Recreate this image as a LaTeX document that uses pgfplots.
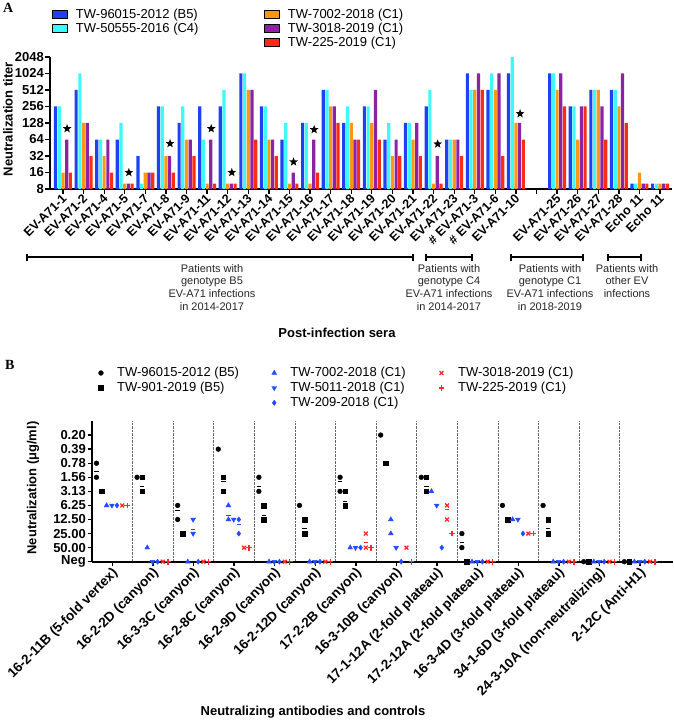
\documentclass[border=0pt]{standalone}
\usepackage{fontspec}
\setmainfont{Liberation Sans}
\newfontfamily\serifb{Liberation Serif}
\usepackage{pgfplots}
\pgfplotsset{compat=1.18}
\usepackage{pgfplotstable}

\definecolor{cblue}{RGB}{32,64,246}
\definecolor{ccyan}{RGB}{60,250,250}
\definecolor{corange}{RGB}{255,150,20}
\definecolor{cpurple}{RGB}{140,35,165}
\definecolor{cred}{RGB}{250,45,20}
\definecolor{bblue}{RGB}{35,75,255}
\definecolor{bred}{RGB}{255,40,40}

% filled five-pointed star
\pgfdeclareplotmark{fstar}{%
  \pgfpathmoveto{\pgfpointpolar{90}{\pgfplotmarksize}}%
  \pgfpathlineto{\pgfpointpolar{126}{0.42\pgfplotmarksize}}%
  \pgfpathlineto{\pgfpointpolar{162}{\pgfplotmarksize}}%
  \pgfpathlineto{\pgfpointpolar{198}{0.42\pgfplotmarksize}}%
  \pgfpathlineto{\pgfpointpolar{234}{\pgfplotmarksize}}%
  \pgfpathlineto{\pgfpointpolar{270}{0.42\pgfplotmarksize}}%
  \pgfpathlineto{\pgfpointpolar{306}{\pgfplotmarksize}}%
  \pgfpathlineto{\pgfpointpolar{342}{0.42\pgfplotmarksize}}%
  \pgfpathlineto{\pgfpointpolar{18}{\pgfplotmarksize}}%
  \pgfpathlineto{\pgfpointpolar{54}{0.42\pgfplotmarksize}}%
  \pgfpathclose
  \pgfusepathqfill}

\pgfplotsset{
  barleg/.style={legend image code/.code={\fill[##1] (0pt,-4pt) rectangle (15pt,4pt);}},
  mkleg/.style={legend image code/.code={\path (0pt,0pt) (9pt,0pt); \draw[##1] plot coordinates {(4.5pt,0pt)};}},
}

% panel A: titers, x = serum index (23 is the gap)
\pgfplotstableread{
x b c o p r
0 256 256 16 64 16
1 512 1024 128 128 32
2 64 64 32 64 16
3 64 128 10 10 10
4 32 10 16 16 16
5 256 256 32 32 16
6 128 256 64 64 32
7 256 64 10 64 10
8 256 512 10 10 10
9 1024 1024 512 512 64
10 256 256 64 64 32
11 64 128 10 16 10
12 128 128 10 64 16
13 512 512 256 256 128
14 128 256 128 64 64
15 256 256 128 512 64
16 64 128 32 64 32
17 128 128 64 128 32
18 256 512 10 32 10
19 64 64 64 64 32
20 1024 512 512 1024 512
21 512 1024 512 1024 32
22 1024 2048 128 128 64
24 1024 1024 512 1024 256
25 256 256 64 256 256
26 512 512 512 256 64
27 512 512 256 1024 128
28 10 10 16 10 10
29 10 10 10 10 10
}\titers

\pgfplotstableread{
x y
0 101
3 16
5 54
7 101
8 16
11 25
12 97
18 53
22 189
}\stars

% panel B: level 0 = Neg, 1 = 50.00 ... 9 = 0.20
\pgfplotstableread{
c v
0 7
0 6
1 6
2 4
2 3
3 8
4 6
4 5
5 4
6 6
6 5
7 9
8 6
9 2
9 1
10 4
11 4
12 0
13 0
}\bCi
\pgfplotstableread{
c v
0 5
1 6
1 5
2 2
3 6
3 5
4 4
4 3
5 3
5 2
6 5
6 4
7 7
8 6
8 5
9 0
10 3
11 3
11 2
12 0
13 0
}\bSq
\pgfplotstableread{
c v
0 4
1 1
2 0
3 4
3 3
4 0
5 0
6 1
7 3
7 2
8 5
9 0
10 3
11 0
12 0
13 0
}\bTu
\pgfplotstableread{
c v
0 4
1 0
2 3
2 2
3 3
4 0
5 0
6 1
7 1
8 4
9 0
10 3
11 0
12 0
13 0
}\bTd
\pgfplotstableread{
c v
0 4
1 0
2 0
3 3
3 2
4 0
5 0
6 1
7 0
8 1
9 0
10 2
11 0
12 0
13 0
}\bDi
\pgfplotstableread{
c v
0 4
1 0
2 0
3 1
4 0
5 0
6 2
6 1
7 1
8 4
8 3
9 0
10 2
11 0
12 0
13 0
}\bXx
\pgfplotstableread{
c v
0 4
1 0
2 0
3 1
4 0
5 0
6 1
7 0
8 2
9 0
10 2
11 0
12 0
13 0
}\bPl

% mean bars
\pgfplotstableread{
c v
0 6.4
2 3.67
4 5.36
6 5.69
9 1.35
}\dCi
\pgfplotstableread{
c v
1 5.38
3 5.69
4 3.32
5 2.37
6 4.31
8 5.36
11 2.37
}\dSq
\pgfplotstableread{
c v
3 3.32
7 2.9
}\dTu
\pgfplotstableread{
c v
2 2.32
}\dTd
\pgfplotstableread{
c v
3 2.65
}\dDi
\pgfplotstableread{
c v
6 1.35
8 3.7
}\dXx

\begin{document}
\begin{tikzpicture}
\useasboundingbox (0pt,0pt) rectangle (673pt,-725pt);

\node[anchor=north west, inner sep=0pt, font=\serifb\bfseries\fontsize{14}{14}\selectfont] at (3pt,-3pt) {A};
\node[anchor=north west, inner sep=0pt, font=\serifb\bfseries\fontsize{14}{14}\selectfont] at (5pt,-360pt) {B};

\begin{axis}[
  at={(50pt,-189pt)}, anchor=south west,
  width=622pt, height=132pt, scale only axis,
  xmin=-0.63, xmax=29.58,
  ymode=log, log basis y=2, ymin=8, ymax=2048, log origin y=infty,
  ytick={8,16,32,64,128,256,512,1024,2048},
  yticklabels={8,16,32,64,128,256,512,1024,2048},
  xtick={0,...,29},
  xticklabels={EV-A71-1,EV-A71-2,EV-A71-4,EV-A71-5,EV-A71-7,EV-A71-8,EV-A71-9,EV-A71-11,EV-A71-12,EV-A71-13,EV-A71-14,EV-A71-15,EV-A71-16,EV-A71-17,EV-A71-18,EV-A71-19,EV-A71-20,EV-A71-21,EV-A71-22,EV-A71-23,\# EV-A71-3,\# EV-A71-6,EV-A71-10,{},EV-A71-25,EV-A71-26,EV-A71-27,EV-A71-28,Echo 11,Echo 11},
  axis lines=left, axis line style={-, line width=1.6pt},
  tick align=outside, major tick length=4.5pt,
  tick style={line width=1.3pt, black},
  yticklabel style={font=\fontsize{13}{13}\selectfont\bfseries, inner sep=1.5pt},
  xticklabel style={font=\fontsize{12.5}{12.5}\selectfont\bfseries, rotate=45, anchor=east, inner sep=1pt, yshift=-3pt},
  ylabel={Neutralization titer},
  ylabel style={font=\fontsize{13}{13}\selectfont\bfseries, at={(axis description cs:-0.0675,0.53)}, anchor=center},
  legend columns=2, legend cell align=left,
  legend style={draw=none, fill=none, at={(0.003,1.37)}, anchor=north west,
    font=\fontsize{13}{13}\selectfont, inner sep=0pt, row sep=2pt,
    nodes={inner sep=0.5pt},
    /tikz/every odd column/.append style={column sep=8pt},
    /tikz/every even column/.append style={column sep=65pt}},
]
\addplot[ybar, bar width=0.155, bar shift=0pt, fill=cblue, draw=none, forget plot] table[x expr=\thisrow{x}-0.36, y=b]{\titers};
\addplot[ybar, bar width=0.155, bar shift=0pt, fill=ccyan, draw=none, forget plot] table[x expr=\thisrow{x}-0.18, y=c]{\titers};
\addplot[ybar, bar width=0.155, bar shift=0pt, fill=corange, draw=none, forget plot] table[x expr=\thisrow{x}, y=o]{\titers};
\addplot[ybar, bar width=0.155, bar shift=0pt, fill=cpurple, draw=none, forget plot] table[x expr=\thisrow{x}+0.18, y=p]{\titers};
\addplot[ybar, bar width=0.155, bar shift=0pt, fill=cred, draw=none, forget plot] table[x expr=\thisrow{x}+0.36, y=r]{\titers};
\addplot[only marks, mark=fstar, mark size=4.6pt, black, forget plot] table[x expr=\thisrow{x}+0.2, y=y]{\stars};

\addlegendimage{barleg, fill=cblue}\addlegendentry{TW-96015-2012 (B5)}
\addlegendimage{barleg, fill=corange}\addlegendentry{TW-7002-2018 (C1)}
\addlegendimage{barleg, fill=ccyan}\addlegendentry{TW-50555-2016 (C4)}
\addlegendimage{barleg, fill=cpurple}\addlegendentry{TW-3018-2019 (C1)}
\addlegendimage{empty legend}\addlegendentry{}
\addlegendimage{barleg, fill=cred}\addlegendentry{TW-225-2019 (C1)}
\end{axis}

% group brackets under panel A
\draw[line width=1.2pt] (27pt,-257pt) -- (413pt,-257pt);
\draw[line width=1.2pt] (27pt,-253.5pt) -- (27pt,-260.5pt) (413pt,-253.5pt) -- (413pt,-260.5pt);
\draw[line width=1.2pt] (426pt,-257pt) -- (472pt,-257pt);
\draw[line width=1.2pt] (426pt,-253.5pt) -- (426pt,-260.5pt) (472pt,-253.5pt) -- (472pt,-260.5pt);
\draw[line width=1.2pt] (511pt,-257pt) -- (583pt,-257pt);
\draw[line width=1.2pt] (511pt,-253.5pt) -- (511pt,-260.5pt) (583pt,-253.5pt) -- (583pt,-260.5pt);
\draw[line width=1.2pt] (608pt,-257pt) -- (641pt,-257pt);
\draw[line width=1.2pt] (608pt,-253.5pt) -- (608pt,-260.5pt) (641pt,-253.5pt) -- (641pt,-260.5pt);
\begin{scope}[every node/.style={align=center, anchor=north, inner sep=0pt, text=black!85, font=\fontsize{11}{12.8}\selectfont}]
\node at (212pt,-264pt) {Patients with\\genotype B5\\EV-A71 infections\\in 2014-2017};
\node at (449pt,-264pt) {Patients with\\genotype C4\\EV-A71 infections\\in 2014-2017};
\node at (550pt,-264pt) {Patients with\\genotype C1\\EV-A71 infections\\in 2018-2019};
\node at (627pt,-264pt) {Patients with\\other EV\\infections};
\end{scope}
\node[font=\fontsize{13}{13}\selectfont\bfseries] at (337pt,-333pt) {Post-infection sera};

\begin{axis}[
  at={(92pt,-561.7pt)}, anchor=south west,
  width=581pt, height=140.7pt, scale only axis,
  xmin=0, xmax=14.31, ymin=0, ymax=10,
  ytick={0,...,9},
  yticklabels={Neg,50.00,25.00,12.50,6.25,3.13,1.56,0.78,0.39,0.20},
  xtick={0.5,1.5,...,13.5},
  xticklabels={16-2-11B (5-fold vertex),16-2-2D (canyon),16-3-3C (canyon),16-2-8C (canyon),16-2-9D (canyon),16-2-12D (canyon),17-2-2B (canyon),16-3-10B (canyon),17-1-12A (2-fold plateau),17-2-12A (2-fold plateau),16-3-4D (3-fold plateau),34-1-6D (3-fold plateau),24-3-10A (non-neutralizing),2-12C (Anti-H1)},
  minor xtick={1,...,13}, xminorgrids,
  minor grid style={densely dotted, black!60, line width=0.7pt},
  minor tick length=0pt,
  axis lines=left, axis line style={-, line width=1.6pt},
  tick align=outside, major tick length=4.5pt,
  tick style={line width=1.3pt, black},
  yticklabel style={font=\fontsize{13}{13}\selectfont\bfseries, inner sep=1.5pt},
  xticklabel style={font=\fontsize{13.5}{13.5}\selectfont\bfseries, rotate=45, anchor=east, inner sep=1pt, yshift=-6pt},
  ylabel={Neutralization (μg/ml)},
  ylabel style={font=\fontsize{13}{13}\selectfont\bfseries, at={(axis description cs:-0.1016,0.524)}, anchor=center},
  clip=false,
  legend columns=3, legend cell align=left,
  legend style={draw=none, fill=none, at={(0.007,1.385)}, anchor=north west,
    font=\fontsize{13}{13}\selectfont, inner sep=0pt, row sep=3pt,
    nodes={inner sep=0.5pt},
    /tikz/every odd column/.append style={column sep=11pt},
    /tikz/every even column/.append style={column sep=30pt}},
]
\addplot[only marks, mark=*, mark size=2.4pt, black, forget plot] table[x expr=\thisrow{c}+0.11, y=v]{\bCi};
\addplot[only marks, mark=square*, mark size=2.3pt, black, forget plot] table[x expr=\thisrow{c}+0.235, y=v]{\bSq};
\addplot[only marks, mark=triangle*, mark size=2.8pt, bblue, forget plot] table[x expr=\thisrow{c}+0.36, y=v]{\bTu};
\addplot[only marks, mark=triangle*, mark options={rotate=180}, mark size=2.8pt, bblue, forget plot] table[x expr=\thisrow{c}+0.49, y=v]{\bTd};
\addplot[only marks, mark=diamond*, mark size=2.6pt, bblue, forget plot] table[x expr=\thisrow{c}+0.615, y=v]{\bDi};
\addplot[only marks, mark=x, mark size=2.7pt, line width=1.3pt, bred, forget plot] table[x expr=\thisrow{c}+0.745, y=v]{\bXx};
\addplot[only marks, mark=+, mark size=2.9pt, line width=1.3pt, bred, forget plot] table[x expr=\thisrow{c}+0.87, y=v]{\bPl};

\addplot[only marks, mark=-, mark size=2.2pt, line width=0.9pt, black, forget plot] table[x expr=\thisrow{c}+0.11, y=v]{\dCi};
\addplot[only marks, mark=-, mark size=2.2pt, line width=0.9pt, black, forget plot] table[x expr=\thisrow{c}+0.235, y=v]{\dSq};
\addplot[only marks, mark=-, mark size=2.2pt, line width=0.9pt, bblue, forget plot] table[x expr=\thisrow{c}+0.36, y=v]{\dTu};
\addplot[only marks, mark=-, mark size=2.2pt, line width=0.9pt, bblue, forget plot] table[x expr=\thisrow{c}+0.49, y=v]{\dTd};
\addplot[only marks, mark=-, mark size=2.2pt, line width=0.9pt, bblue, forget plot] table[x expr=\thisrow{c}+0.615, y=v]{\dDi};
\addplot[only marks, mark=-, mark size=2.2pt, line width=0.9pt, bred, forget plot] table[x expr=\thisrow{c}+0.745, y=v]{\dXx};

\addlegendimage{mkleg, only marks, mark=*, mark size=2.4pt, black}\addlegendentry{TW-96015-2012 (B5)}
\addlegendimage{mkleg, only marks, mark=triangle*, mark size=2.8pt, bblue}\addlegendentry{TW-7002-2018 (C1)}
\addlegendimage{mkleg, only marks, mark=x, mark size=2.7pt, line width=1.3pt, bred}\addlegendentry{TW-3018-2019 (C1)}
\addlegendimage{mkleg, only marks, mark=square*, mark size=2.3pt, black}\addlegendentry{TW-901-2019 (B5)}
\addlegendimage{mkleg, only marks, mark=triangle*, mark options={rotate=180}, mark size=2.8pt, bblue}\addlegendentry{TW-5011-2018 (C1)}
\addlegendimage{mkleg, only marks, mark=+, mark size=2.9pt, line width=1.3pt, bred}\addlegendentry{TW-225-2019 (C1)}
\addlegendimage{empty legend}\addlegendentry{}
\addlegendimage{mkleg, only marks, mark=diamond*, mark size=2.6pt, bblue}\addlegendentry{TW-209-2018 (C1)}
\end{axis}

\node[font=\fontsize{13}{13}\selectfont\bfseries] at (313pt,-712pt) {Neutralizing antibodies and controls};
\end{tikzpicture}
\end{document}
